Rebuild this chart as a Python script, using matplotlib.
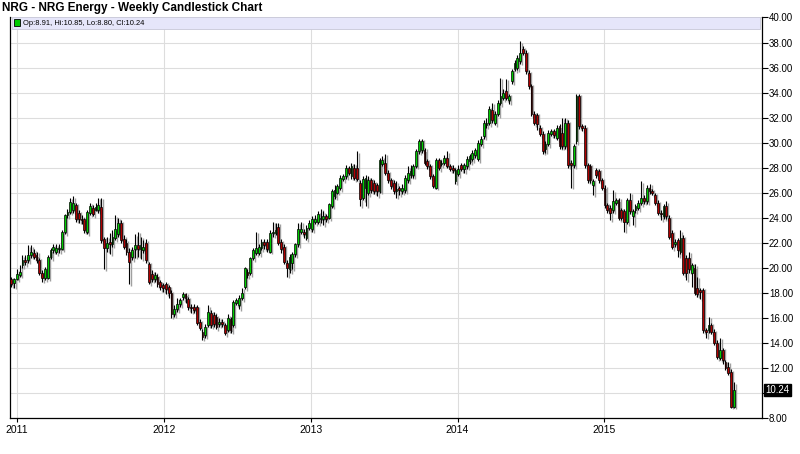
import matplotlib
matplotlib.use("Agg")
import matplotlib.pyplot as plt
import matplotlib.transforms as mtransforms
from matplotlib.patches import Rectangle
import pandas as pd
import numpy as np

# weekly OHLC (NRG, Dec 2010 - Nov 2015)
opens = [
    19.1, 18.8, 19.1, 19.4, 20.2, 20.6, 20.6, 21.0, 21.2, 21.0,
    20.6, 19.6, 19.2, 19.2, 20.9, 21.4, 21.3, 21.5, 21.5, 22.85,
    24.2, 24.45, 24.6, 25.0, 24.4, 23.9, 23.9, 22.85, 24.4, 24.8,
    24.6, 24.6, 24.85,
    22.3, 21.6, 22.1, 21.9, 22.4, 22.7, 23.6, 22.3, 22.0, 21.25,
    20.85, 21.5, 21.8, 21.5, 21.4, 22.0, 20.3, 19.5, 19.1, 19.25,
    18.85, 18.6, 18.7, 18.45, 18.0, 16.3, 16.7, 17.1, 17.65, 17.9,
    17.5, 16.9,
    16.9, 16.9, 15.7, 14.9, 14.6, 15.45, 16.4, 16.2, 16.1, 15.5,
    15.7, 15.45, 15.0, 15.9, 15.45, 17.2, 17.0, 17.6, 18.5, 19.7,
    19.6, 20.8, 21.2, 21.2, 21.6, 22.1, 22.1, 21.3, 22.75, 22.8,
    23.3, 22.1,
    21.7, 20.4, 19.9, 20.4, 21.1, 21.9, 22.9, 22.9, 22.4, 23.2,
    23.1, 23.7, 23.7, 23.9, 23.9, 24.1, 24.0, 24.9, 25.7, 26.0,
    26.4, 27.1, 27.3, 28.0, 27.3, 28.0, 28.0, 26.8, 25.6, 26.4,
    26.0,
    27.0, 26.8, 26.6, 26.1, 28.3, 28.4, 27.6, 27.0, 26.8, 26.1,
    26.4, 26.1, 26.2, 27.0, 27.4, 27.4, 28.1, 29.3, 29.4, 29.4,
    28.5, 28.1, 27.3, 26.4, 28.6, 28.3, 28.4, 28.8, 28.1, 28.0,
    26.9, 27.5,
    28.2, 27.9, 28.1, 28.5, 28.7, 29.0, 28.7, 29.9, 30.5, 31.4,
    31.6, 32.6, 31.6, 32.3, 33.2, 33.6, 34.1, 33.4, 34.9, 35.9,
    36.0, 36.5, 37.5, 37.2, 35.6, 34.5, 32.3, 32.2, 31.2, 30.7,
    29.5, 29.9, 30.7, 30.9,
    30.4, 31.3, 30.8, 29.7, 31.6, 28.4, 28.2, 30.1, 33.7, 31.3,
    31.2, 28.2, 28.1, 26.6, 27.8, 27.7, 27.0, 26.4, 25.0, 24.8,
    24.6, 25.2, 25.4, 24.6, 24.5, 23.7, 25.4, 24.1, 24.6, 24.8,
    25.2,
    25.6, 25.3, 26.4, 26.1, 25.8, 25.2, 24.4, 24.1, 24.9, 24.0,
    22.8, 21.9, 22.2, 21.3, 22.4, 20.8, 20.8, 19.6, 20.0, 18.4,
    18.2, 18.2, 15.0, 15.0, 15.4, 14.9, 14.0, 12.8, 13.4, 12.5,
    12.1, 11.7, 8.91,
]
highs = [
    19.3, 19.2, 19.9, 20.2, 21.0, 21.0, 21.8, 21.8, 21.5, 21.3,
    20.8, 19.8, 20.1, 21.0, 21.6, 21.9, 21.9, 21.9, 23.0, 24.3,
    24.7, 25.6, 25.7, 25.2, 24.6, 24.2, 24.0, 24.6, 25.2, 25.0,
    25.2, 25.6, 25.6,
    22.5, 22.5, 22.8, 23.0, 24.2, 24.0, 23.8, 22.6, 22.3, 21.6,
    21.7, 22.7, 22.9, 22.5, 22.2, 22.3, 20.5, 19.8, 19.7, 19.5,
    19.0, 18.8, 18.9, 18.6, 18.2, 17.0, 17.6, 17.6, 18.1, 18.0,
    17.7, 17.1,
    17.1, 17.0, 15.9, 15.1, 15.5, 17.0, 16.6, 16.5, 16.3, 16.0,
    15.9, 15.6, 16.3, 16.1, 17.4, 17.6, 17.8, 18.4, 20.1, 19.9,
    20.9, 21.6, 22.9, 21.9, 22.3, 22.3, 22.3, 23.0, 23.7, 23.6,
    23.6, 22.3,
    21.9, 20.6, 21.1, 21.3, 22.0, 23.6, 23.7, 23.1, 23.4, 23.8,
    24.1, 24.2, 24.5, 24.7, 24.5, 24.3, 25.2, 26.3, 26.6, 26.7,
    27.4, 27.5, 28.2, 28.1, 28.4, 28.3, 29.3, 27.0, 27.3, 27.4,
    27.3,
    27.2, 27.0, 26.8, 28.8, 28.9, 29.1, 27.8, 27.2, 27.0, 26.9,
    26.5, 26.7, 27.4, 28.1, 28.2, 28.3, 29.5, 30.3, 30.3, 29.6,
    28.7, 28.3, 27.5, 28.8, 28.8, 28.6, 29.0, 29.3, 28.3, 28.2,
    28.0, 28.2,
    28.4, 28.4, 28.9, 29.1, 29.4, 29.6, 30.2, 30.5, 31.8, 32.0,
    32.9, 33.2, 32.5, 33.4, 35.2, 34.3, 35.1, 33.9, 35.9, 36.6,
    37.0, 38.1, 37.7, 37.4, 35.8, 34.7, 32.5, 32.4, 31.4, 30.9,
    30.1, 31.0, 31.1, 31.1,
    31.4, 31.5, 32.0, 32.0, 31.8, 28.6, 29.9, 33.9, 33.9, 31.5,
    31.4, 28.4, 28.3, 27.1, 28.0, 27.9, 27.2, 26.6, 25.2, 25.0,
    26.2, 25.6, 25.6, 24.8, 24.7, 25.6, 26.0, 24.7, 25.1, 25.4,
    26.9,
    25.8, 26.6, 26.7, 26.3, 26.0, 25.4, 24.6, 25.1, 25.3, 24.2,
    23.0, 22.3, 22.4, 23.0, 22.6, 21.0, 21.3, 20.4, 20.3, 19.3,
    18.4, 18.4, 15.2, 16.1, 15.6, 15.1, 14.2, 14.4, 13.6, 12.6,
    12.5, 11.9, 10.85,
]
lows = [
    18.5, 18.4, 19.0, 19.3, 20.0, 20.2, 20.4, 20.8, 20.7, 20.4,
    19.4, 18.9, 19.0, 19.1, 20.7, 21.2, 21.1, 21.2, 21.4, 22.7,
    24.0, 24.3, 24.4, 23.7, 23.6, 23.5, 22.8, 22.7, 24.2, 24.1,
    24.5, 24.4, 22.0,
    19.9, 21.3, 21.1, 21.7, 22.2, 22.5, 22.0, 21.5, 21.0, 18.7,
    20.6, 20.8, 20.9, 20.7, 21.2, 20.4, 18.7, 18.9, 18.9, 18.5,
    18.2, 18.1, 17.9, 17.6, 16.0, 16.1, 16.5, 16.9, 17.4, 17.2,
    16.6, 16.4,
    16.4, 15.4, 15.0, 14.25, 14.4, 15.3, 15.2, 15.3, 15.1, 15.3,
    15.3, 14.6, 14.9, 14.8, 15.3, 17.0, 16.7, 17.4, 18.3, 19.2,
    19.4, 20.6, 21.0, 21.0, 21.4, 21.5, 21.3, 21.2, 22.5, 22.6,
    21.8, 21.2,
    20.3, 19.3, 19.6, 19.9, 20.9, 21.7, 22.7, 22.4, 22.2, 23.0,
    22.9, 23.5, 23.5, 23.6, 23.4, 23.7, 23.9, 24.8, 25.5, 25.9,
    26.2, 26.9, 27.1, 27.4, 27.1, 27.0, 26.9, 24.9, 25.4, 24.9,
    25.8,
    26.0, 25.9, 25.7, 26.0, 28.1, 27.4, 26.8, 26.3, 25.9, 25.6,
    25.8, 25.9, 26.0, 26.8, 27.2, 27.2, 28.0, 29.1, 29.2, 28.2,
    27.9, 27.1, 26.4, 26.3, 27.8, 28.1, 28.2, 28.0, 27.7, 27.6,
    26.7, 27.3,
    27.7, 27.6, 27.9, 28.3, 28.5, 28.8, 28.5, 29.7, 30.3, 31.2,
    31.4, 31.6, 31.4, 32.1, 33.0, 33.4, 33.4, 33.1, 34.7, 35.7,
    35.8, 36.3, 37.0, 35.5, 34.3, 32.1, 31.4, 31.0, 30.5, 29.1,
    29.2, 29.7, 30.5, 30.4,
    30.2, 29.5, 29.5, 29.5, 28.0, 26.4, 28.0, 29.9, 31.1, 30.9,
    28.0, 26.8, 26.8, 25.8, 27.2, 26.8, 26.2, 24.8, 24.4, 23.8,
    24.4, 25.0, 23.8, 23.8, 22.9, 23.5, 24.3, 23.4, 24.4, 24.6,
    25.0,
    25.1, 25.1, 25.9, 25.8, 25.0, 24.2, 23.8, 23.9, 23.9, 22.3,
    21.5, 21.7, 20.9, 21.1, 19.4, 19.0, 19.6, 18.5, 17.8, 17.7,
    17.5, 14.8, 14.4, 14.8, 14.7, 13.8, 12.7, 12.6, 12.3, 11.8,
    11.4, 8.8, 8.80,
]
closes = [
    18.7, 19.1, 19.5, 19.7, 20.6, 20.5, 21.0, 21.3, 20.9, 20.6,
    19.6, 19.2, 19.9, 20.9, 21.4, 21.65, 21.6, 21.6, 22.85, 24.2,
    24.45, 25.25, 25.2, 23.9, 23.9, 23.8, 23.0, 24.45, 24.9, 24.3,
    24.85, 25.0, 22.2,
    21.6, 22.0, 21.9, 22.45, 23.1, 23.6, 22.2, 21.7, 21.25, 20.45,
    21.4, 21.8, 21.5, 21.8, 21.7, 20.6, 18.85, 19.1, 19.4, 18.7,
    18.5, 18.4, 18.3, 18.0, 16.3, 16.7, 17.1, 17.4, 17.9, 17.6,
    16.85, 16.8,
    16.6, 15.6, 15.2, 14.5, 15.3, 16.5, 15.4, 15.5, 15.3, 15.7,
    15.5, 14.8, 16.0, 15.0, 17.3, 17.45, 17.6, 18.0, 20.0, 19.45,
    20.8, 21.45, 21.6, 21.7, 22.1, 21.8, 21.5, 22.8, 22.9, 23.0,
    22.0, 21.5,
    20.5, 20.0, 20.9, 21.1, 21.9, 23.1, 23.1, 22.7, 23.2, 23.6,
    23.9, 23.9, 24.3, 24.0, 24.1, 23.9, 25.1, 26.1, 26.2, 26.5,
    27.2, 27.3, 28.0, 27.6, 28.1, 27.2, 27.1, 25.5, 27.1, 27.2,
    27.0,
    26.2, 26.1, 26.1, 28.6, 28.6, 27.6, 27.0, 26.5, 26.1, 26.3,
    26.2, 26.4, 27.2, 27.6, 27.7, 28.1, 29.3, 30.1, 30.1, 28.4,
    28.1, 27.3, 26.5, 28.6, 28.0, 28.4, 28.8, 28.1, 27.9, 27.8,
    27.8, 27.9,
    27.9, 28.2, 28.7, 28.9, 29.2, 29.4, 30.0, 30.3, 31.6, 31.6,
    32.7, 31.8, 32.3, 33.2, 33.7, 34.0, 33.6, 33.7, 35.7, 36.4,
    36.8, 37.2, 37.2, 35.7, 34.5, 32.3, 31.6, 31.5, 30.7, 29.3,
    29.9, 30.8, 30.9, 30.6,
    31.2, 29.7, 29.7, 31.6, 28.2, 28.2, 29.7, 33.7, 31.3, 31.2,
    28.2, 27.0, 27.0, 26.9, 27.4, 27.0, 26.4, 25.0, 24.6, 24.4,
    25.3, 25.4, 24.0, 24.0, 23.7, 25.4, 24.5, 24.5, 24.9, 25.2,
    25.6,
    25.3, 26.4, 26.1, 26.0, 25.2, 24.4, 24.3, 24.9, 24.1, 22.5,
    21.7, 22.1, 21.4, 22.4, 19.6, 19.6, 19.9, 20.2, 18.0, 17.9,
    18.1, 15.0, 14.9, 15.4, 14.9, 14.0, 12.9, 13.4, 12.6, 12.0,
    11.6, 8.9, 10.24,
]
last_week = "2015-11-20"
year_labels = ["2011", "2012", "2013", "2014", "2015"]
price_ticks = [8, 10, 12, 14, 16, 18, 20, 22, 24, 26, 28, 30, 32, 34, 36, 38, 40]

plt.rcParams["font.family"] = ["Liberation Sans", "DejaVu Sans"]

dates = pd.date_range(end=last_week, periods=len(closes), freq="7D")
o = np.array(opens)
c = np.array(closes)
up = c >= o
body_colors = np.where(up, "#00cc00", "#b00000")

fig = plt.figure(figsize=(8, 4.54), dpi=100)
ax = fig.add_axes([10 / 800, 36 / 454, 752 / 800, 400.5 / 454])

# drop shadow behind each candle
shadow = mtransforms.offset_copy(ax.transData, fig=fig, x=2, y=-1.5, units="dots")
ax.vlines(dates, lows, highs, colors="#a0a0a0", lw=1.0, transform=shadow, zorder=2)
ax.bar(dates, c - o, bottom=o, width=4.5, color="#a0a0a0", linewidth=0,
       transform=shadow, zorder=2)

ax.vlines(dates, lows, highs, colors="black", lw=0.8, zorder=3)
ax.bar(dates, c - o, bottom=o, width=4.5, color=body_colors, edgecolor="black",
       linewidth=0.5, zorder=4)

ax.set_ylim(8, 40)
ax.set_xlim(pd.Timestamp("2010-12-14"), pd.Timestamp("2016-01-29"))

# the last-close box sits over the 10.00 label, so that label stays empty
ax.set_yticks(price_ticks)
ax.set_yticklabels(["" if p == 10 else "%.2f" % p for p in price_ticks])
ax.yaxis.tick_right()
ax.set_xticks([pd.Timestamp(y + "-01-01") for y in year_labels])
ax.set_xticklabels(year_labels)
ax.tick_params(axis="y", labelsize=7, length=4, width=0.8, pad=1, colors="black")
ax.tick_params(axis="x", labelsize=7.5, length=3, width=0.8, pad=2)
ax.grid(color="#dddddd", lw=0.8, zorder=0)
ax.set_axisbelow(True)
ax.spines["top"].set_visible(False)
for s in ["left", "right", "bottom"]:
    ax.spines[s].set_linewidth(0.9)

# legend band at top of plot
band = Rectangle((0.003, 39.1), 0.994, 0.9, transform=ax.get_yaxis_transform(),
                 facecolor="#e6e6fa", edgecolor="#c8c8d8", lw=0.6, zorder=6)
ax.add_patch(band)
ax.add_patch(Rectangle((0.0055, 39.3), 0.008, 0.55, transform=ax.get_yaxis_transform(),
                       facecolor="#00cc00", edgecolor="black", lw=0.6, zorder=7))
ax.text(0.017, 39.55, "Op:%.2f, Hi:%.2f, Lo:%.2f, Cl:%.2f" % (opens[-1], highs[-1], lows[-1], closes[-1]),
        transform=ax.get_yaxis_transform(), fontsize=5.4,
        va="center", ha="left", zorder=7)

# last close marker on the price axis
ax.text(1.004, closes[-1], "%.2f" % closes[-1], transform=ax.get_yaxis_transform(),
        fontsize=7, color="white", va="center", ha="left",
        bbox=dict(boxstyle="square,pad=0.15", facecolor="black", edgecolor="black"))

fig.text(2 / 800, 1 - 8 / 454, "NRG - NRG Energy - Weekly Candlestick Chart",
         fontsize=8.5, fontweight="bold", va="center", ha="left")

fig.savefig("out.png", dpi=100)
